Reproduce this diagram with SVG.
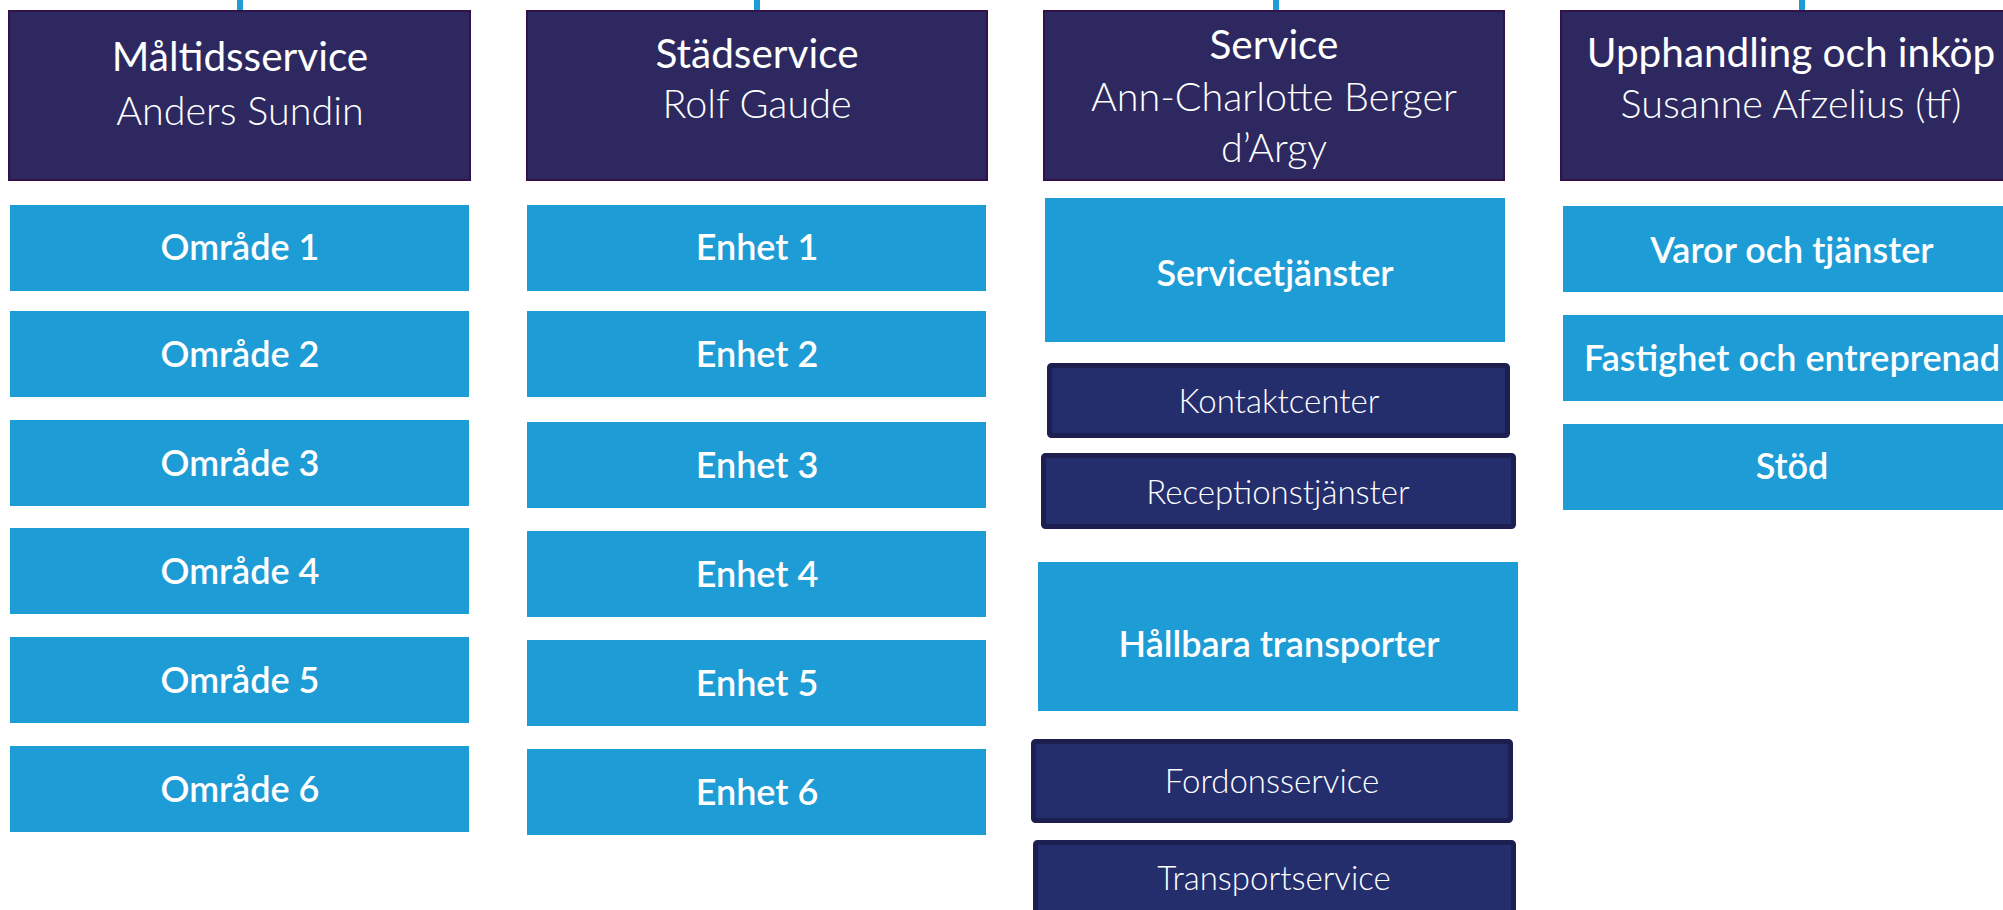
<svg xmlns="http://www.w3.org/2000/svg" width="2003" height="910" viewBox="0 0 2003 910">
<style>
.hd{fill:#2d2960;stroke:#33124a;stroke-width:2}
.bl{fill:#1e9cd6}
.sb{fill:#252e6d;stroke:#1c1f50;stroke-width:5}
.t1{font-family:Lato,"Liberation Sans",sans-serif;font-size:40.5px;fill:#fff;text-anchor:middle}
.t2{font-family:Lato,"Liberation Sans",sans-serif;font-size:39.5px;font-weight:300;fill:#fff;text-anchor:middle}
.tb{font-family:Lato,"Liberation Sans",sans-serif;font-size:36px;font-weight:600;fill:#fff;text-anchor:middle}
.ts{font-family:Lato,"Liberation Sans",sans-serif;font-size:33px;font-weight:300;fill:#fff;text-anchor:middle}
.cn{stroke:#1e9cd6;stroke-width:6}
</style>
<rect width="2003" height="910" fill="#fff"/>
<g id="connectors">
<line class="cn" x1="240" y1="0" x2="240" y2="11"/>
<line class="cn" x1="757" y1="0" x2="757" y2="11"/>
<line class="cn" x1="1276" y1="0" x2="1276" y2="11"/>
<line class="cn" x1="1802" y1="0" x2="1802" y2="11"/>
</g>
<g id="maltidsservice">
<rect class="hd" x="9" y="11" width="461" height="169"/>
<text class="t1" x="240" y="71">Måltidsservice</text>
<text class="t2" x="240" y="125">Anders Sundin</text>
</g>
<g id="omrade1"><rect class="bl" x="10" y="205" width="459" height="86"/><text class="tb" x="240" y="260">Område 1</text></g>
<g id="omrade2"><rect class="bl" x="10" y="311" width="459" height="86"/><text class="tb" x="240" y="367">Område 2</text></g>
<g id="omrade3"><rect class="bl" x="10" y="420" width="459" height="86"/><text class="tb" x="240" y="476">Område 3</text></g>
<g id="omrade4"><rect class="bl" x="10" y="528" width="459" height="86"/><text class="tb" x="240" y="584">Område 4</text></g>
<g id="omrade5"><rect class="bl" x="10" y="637" width="459" height="86"/><text class="tb" x="240" y="693">Område 5</text></g>
<g id="omrade6"><rect class="bl" x="10" y="746" width="459" height="86"/><text class="tb" x="240" y="802">Område 6</text></g>
<g id="stadservice">
<rect class="hd" x="527" y="11" width="460" height="169"/>
<text class="t1" x="757" y="68">Städservice</text>
<text class="t2" x="757" y="118">Rolf Gaude</text>
</g>
<g id="enhet1"><rect class="bl" x="527" y="205" width="459" height="86"/><text class="tb" x="757" y="260">Enhet 1</text></g>
<g id="enhet2"><rect class="bl" x="527" y="311" width="459" height="86"/><text class="tb" x="757" y="367">Enhet 2</text></g>
<g id="enhet3"><rect class="bl" x="527" y="422" width="459" height="86"/><text class="tb" x="757" y="478">Enhet 3</text></g>
<g id="enhet4"><rect class="bl" x="527" y="531" width="459" height="86"/><text class="tb" x="757" y="587">Enhet 4</text></g>
<g id="enhet5"><rect class="bl" x="527" y="640" width="459" height="86"/><text class="tb" x="757" y="696">Enhet 5</text></g>
<g id="enhet6"><rect class="bl" x="527" y="749" width="459" height="86"/><text class="tb" x="757" y="805">Enhet 6</text></g>
<g id="service">
<rect class="hd" x="1044" y="11" width="460" height="169"/>
<text class="t1" x="1274" y="59">Service</text>
<text class="t2" x="1274" y="111">Ann-Charlotte Berger</text>
<text class="t2" x="1274" y="162">d’Argy</text>
</g>
<g id="servicetjanster"><rect class="bl" x="1045" y="198" width="460" height="144"/><text class="tb" x="1275" y="286">Servicetjänster</text></g>
<g id="kontaktcenter"><rect class="sb" x="1049.5" y="365.5" width="458" height="70" rx="2"/><text class="ts" x="1279" y="413">Kontaktcenter</text></g>
<g id="receptionstjanster"><rect class="sb" x="1043.5" y="455.5" width="470" height="71" rx="2"/><text class="ts" x="1278" y="504">Receptionstjänster</text></g>
<g id="hallbara"><rect class="bl" x="1038" y="562" width="480" height="149"/><text class="tb" x="1279" y="657">Hållbara transporter</text></g>
<g id="fordonsservice"><rect class="sb" x="1033.5" y="741.5" width="477" height="79" rx="2"/><text class="ts" x="1272" y="793">Fordonsservice</text></g>
<g id="transportservice"><rect class="sb" x="1035.5" y="842.5" width="478" height="90" rx="2"/><text class="ts" x="1274" y="890">Transportservice</text></g>
<g id="upphandling">
<rect class="hd" x="1561" y="11" width="480" height="169"/>
<text class="t1" x="1791" y="67">Upphandling och inköp</text>
<text class="t2" x="1791" y="118">Susanne Afzelius (tf)</text>
</g>
<g id="varor"><rect class="bl" x="1563" y="206" width="480" height="86"/><text class="tb" x="1792" y="263">Varor och tjänster</text></g>
<g id="fastighet"><rect class="bl" x="1563" y="315" width="480" height="86"/><text class="tb" x="1792" y="371">Fastighet och entreprenad</text></g>
<g id="stod"><rect class="bl" x="1563" y="424" width="480" height="86"/><text class="tb" x="1792" y="479">Stöd</text></g>
</svg>
